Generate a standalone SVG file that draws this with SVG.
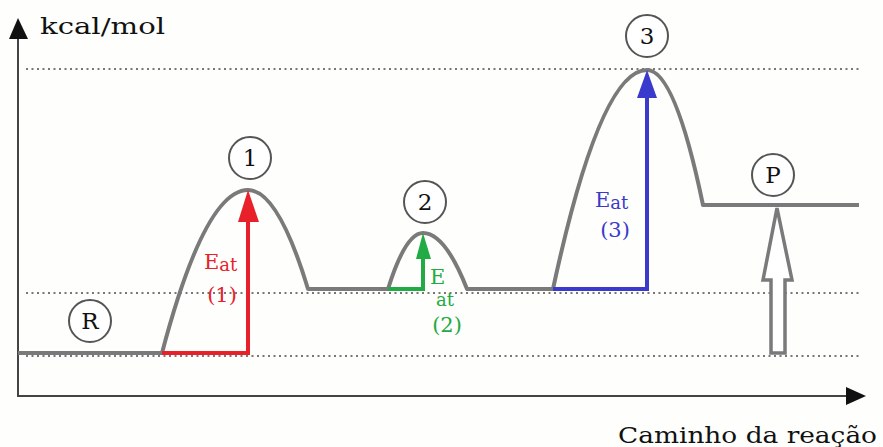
<svg xmlns="http://www.w3.org/2000/svg" width="883" height="447" viewBox="0 0 883 447">
<style>
.dot{stroke:#777;stroke-width:2;stroke-dasharray:2 3.5;fill:none}
.curve{stroke:#7a7a7a;stroke-width:4;fill:none;stroke-linejoin:round}
.axis{stroke:#444;stroke-width:2;fill:none}
.circ{fill:#fff;stroke:#555;stroke-width:2}
text{font-family:"DejaVu Serif","Liberation Serif",serif}
.ctext{font-size:23px;fill:#111;text-anchor:middle}
.ea{font-size:21px}
</style>
<rect width="883" height="447" fill="#fefefc"/>
<g id="grid">
<line class="dot" x1="26" y1="69" x2="860" y2="69"/>
<line class="dot" x1="26" y1="293" x2="860" y2="293"/>
<line class="dot" x1="26" y1="356" x2="860" y2="356"/>
</g>
<g id="axes">
<line class="axis" x1="18" y1="36" x2="18" y2="397"/>
<line class="axis" x1="17" y1="396" x2="849" y2="396"/>
<polygon points="18,18 9,39 28,39" fill="#111"/>
<polygon points="866,396 846,387 846,405" fill="#111"/>
<text x="40" y="34" font-size="22" fill="#111" textLength="125" lengthAdjust="spacingAndGlyphs">kcal/mol</text>
<text x="618" y="443" font-size="22" fill="#111" textLength="259" lengthAdjust="spacingAndGlyphs">Caminho da reação</text>
</g>
<g id="connectors">
<path class="curve" d="M18,353 H162 Q205,190 248,190 Q278,190 308,289 H388 Q405.5,233 423,233 Q445,233 467,289 H553 Q600,70 647,70 Q675,70 703,205 H859"/>
<g id="eat1">
<path d="M162,353 H248 V218" stroke="#e8202a" stroke-width="4" fill="none"/>
<polygon points="248,190 238,222 259,222" fill="#e8202a"/>
</g>
<g id="eat2">
<path d="M388,289 H423 V255" stroke="#22aa44" stroke-width="4" fill="none"/>
<polygon points="423,233 416,259 431,259" fill="#22aa44"/>
</g>
<g id="eat3">
<path d="M553,289 H647 V95" stroke="#3a3acc" stroke-width="4" fill="none"/>
<polygon points="647,70 637,98 657,98" fill="#3a3acc"/>
</g>
<polygon id="deltaH" points="777,208 763,280 771,280 771,353 785,353 785,280 792,280" fill="#fff" stroke="#7a7a7a" stroke-width="3.5" stroke-linejoin="miter"/>
</g>
<g id="node-R"><circle class="circ" cx="90" cy="321" r="21"/><text class="ctext" x="90" y="329">R</text></g>
<g id="node-1"><circle class="circ" cx="250" cy="158" r="21"/><text class="ctext" x="250" y="166">1</text></g>
<g id="node-2"><circle class="circ" cx="425" cy="202" r="21"/><text class="ctext" x="425" y="210">2</text></g>
<g id="node-3"><circle class="circ" cx="647" cy="36" r="21"/><text class="ctext" x="647" y="44">3</text></g>
<g id="node-P"><circle class="circ" cx="773" cy="175" r="21"/><text class="ctext" x="773" y="183">P</text></g>
<g id="label-1" fill="#e8202a" class="ea">
<text x="204" y="269">E<tspan font-size="18" dy="2">at</tspan></text>
<text x="222" y="302" text-anchor="middle">(1)</text>
</g>
<g id="label-2" fill="#22aa44" class="ea">
<text x="430" y="284">E</text>
<text x="436" y="306" font-size="18">at</text>
<text x="447" y="332" text-anchor="middle">(2)</text>
</g>
<g id="label-3" fill="#3a3acc" class="ea">
<text x="595" y="207">E<tspan font-size="18" dy="2">at</tspan></text>
<text x="615" y="237" text-anchor="middle">(3)</text>
</g>
</svg>
